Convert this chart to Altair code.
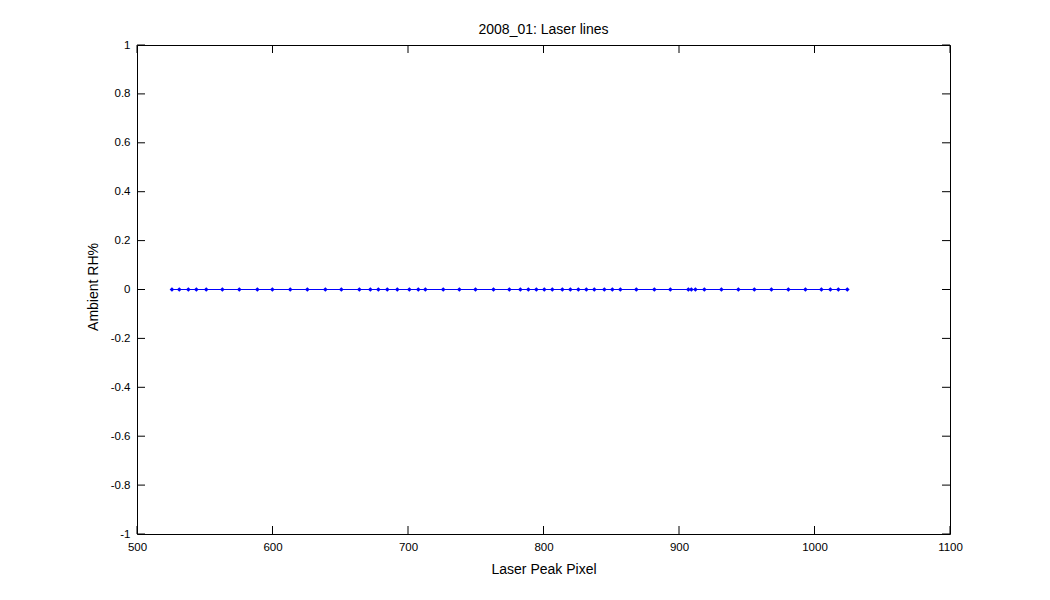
import altair as alt
import pandas as pd

# Data
laser_peak_pixel = [
    525.8, 531.2, 537.9, 543.8, 551.1, 563.0, 575.5, 588.8, 599.9, 613.1,
    625.7, 639.0, 650.8, 664.1, 672.2, 678.1, 684.7, 692.1, 701.0, 707.6,
    712.8, 726.0, 737.9, 749.8, 763.1, 774.8, 782.9, 788.8, 794.7, 800.6,
    806.5, 813.9, 819.8, 825.7, 831.6, 837.5, 844.9, 850.8, 856.7, 868.5,
    881.8, 893.6, 906.9, 909.1, 912.1, 918.7, 931.3, 943.8, 955.6, 968.2,
    980.7, 993.3, 1005.1, 1011.7, 1017.6, 1024.2,
]
ambient_rh = [
    0, 0, 0, 0, 0, 0, 0, 0, 0, 0,
    0, 0, 0, 0, 0, 0, 0, 0, 0, 0,
    0, 0, 0, 0, 0, 0, 0, 0, 0, 0,
    0, 0, 0, 0, 0, 0, 0, 0, 0, 0,
    0, 0, 0, 0, 0, 0, 0, 0, 0, 0,
    0, 0, 0, 0, 0, 0,
]
x_ticks = [500, 600, 700, 800, 900, 1000, 1100]
y_ticks = [-1, -0.8, -0.6, -0.4, -0.2, 0, 0.2, 0.4, 0.6, 0.8, 1]

W, H = 813, 489
TICK = 8
FONT = "Liberation Sans"

df = pd.DataFrame({"pixel": laser_peak_pixel, "rh": ambient_rh})
xt = pd.DataFrame({"v": x_ticks})
yt = pd.DataFrame({"v": y_ticks})

xscale = alt.Scale(domain=[500, 1100], nice=False, zero=False)
yscale = alt.Scale(domain=[-1, 1], nice=False, zero=False)

common = dict(
    domain=False, ticks=False, grid=False,
    labelFont=FONT, labelFontSize=11.5, labelColor="black",
    labelFlush=False, labelOverlap=False, labelPadding=7,
    labelExpr="'' + datum.value",
    titleFont=FONT, titleFontSize=14, titleFontWeight="normal", titleColor="black",
    titleBaseline="alphabetic", titleAlign="center",
)
xaxis = alt.Axis(values=x_ticks, title="Laser Peak Pixel",
                 titleX=W / 2, titleY=39, **common)
yaxis = alt.Axis(values=y_ticks, title="Ambient RH%",
                 titleX=-40, titleY=H / 2 - 3, titleAngle=270, **common)

base = alt.Chart(df).encode(
    x=alt.X("pixel:Q", scale=xscale, axis=xaxis),
    y=alt.Y("rh:Q", scale=yscale, axis=yaxis),
)
line = base.mark_line(color="#0000ff", strokeWidth=1)
pts = base.mark_point(filled=True, shape="diamond", size=22, color="#0000ff", opacity=1)

xb = alt.Chart(xt).mark_rule(color="black", strokeWidth=1).encode(
    x=alt.X("v:Q", scale=xscale, axis=xaxis), y=alt.value(H), y2=alt.value(H - TICK))
xtop = alt.Chart(xt).mark_rule(color="black", strokeWidth=1).encode(
    x=alt.X("v:Q", scale=xscale, axis=xaxis), y=alt.value(0), y2=alt.value(TICK))
yl = alt.Chart(yt).mark_rule(color="black", strokeWidth=1).encode(
    y=alt.Y("v:Q", scale=yscale, axis=yaxis), x=alt.value(0), x2=alt.value(TICK))
yr = alt.Chart(yt).mark_rule(color="black", strokeWidth=1).encode(
    y=alt.Y("v:Q", scale=yscale, axis=yaxis), x=alt.value(W), x2=alt.value(W - TICK))

chart = alt.layer(xb, xtop, yl, yr, line, pts).properties(
    width=W, height=H,
    background="white",
    title=alt.Title("2008_01: Laser lines", fontSize=14, font=FONT, fontWeight="normal",
                    color="black", anchor="middle", offset=10, baseline="alphabetic", dy=19),
    autosize=alt.AutoSizeParams(type="none"),
    padding={"left": 129, "top": 37, "right": 80, "bottom": 60},
).configure_view(
    stroke="black", strokeWidth=1, strokeOpacity=1
)

chart.save("out.html", embed_options={"renderer": "svg", "actions": False})
